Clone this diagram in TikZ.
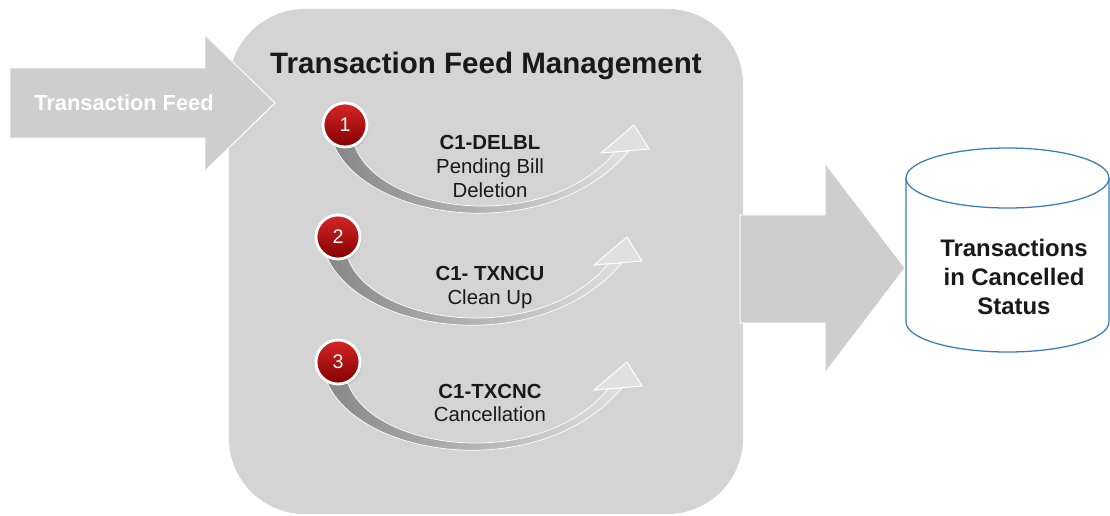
\documentclass[tikz,border=0pt]{standalone}
\usepackage{fontspec}
\setmainfont{Liberation Sans}
\usetikzlibrary{shadows}

\definecolor{panelgray}{RGB}{212,212,212}
\definecolor{arrowgray}{RGB}{206,206,206}
\definecolor{banddark}{RGB}{135,135,135}
\definecolor{bandlight}{RGB}{224,224,224}
\definecolor{numtop}{RGB}{214,38,38}
\definecolor{numbot}{RGB}{130,0,0}
\definecolor{dbblue}{RGB}{60,125,180}
\definecolor{textdark}{RGB}{25,25,25}

\begin{document}
\begin{tikzpicture}[
  x=0.025cm, y=-0.025cm,
  panel/.style={fill=panelgray, rounded corners=1.9cm, minimum width=12.85cm, minimum height=12.625cm},
  bigarrow/.style={fill=arrowgray, draw=white, line width=0.7pt},
  band/.style={left color=banddark, right color=bandlight, draw=white, line width=0.5pt},
  bandhead/.style={fill=bandlight, draw=white, line width=0.7pt},
  stepnum/.style={circle, minimum size=1.1cm, inner sep=0pt, top color=numtop, bottom color=numbot,
    draw=white, line width=2pt, text=white, font=\fontsize{14}{14}\selectfont,
    drop shadow={opacity=0.25, shadow xshift=0.4mm, shadow yshift=-0.6mm}},
  title/.style={font=\fontsize{21}{24}\selectfont\bfseries, text=textdark, anchor=base},
  feed/.style={font=\fontsize{15.5}{18}\selectfont\bfseries, text=white, anchor=base},
  job/.style={align=center, font=\fontsize{14.5}{17}\selectfont, text=textdark},
  dbline/.style={draw=dbblue, line width=0.9pt},
  dbtext/.style={align=center, font=\fontsize{17}{20.6}\selectfont\bfseries, text=textdark},
]

\def\RX{101.5}  % cylinder x radius
\def\RY{30}     % cylinder y radius

\useasboundingbox (0,0) rectangle (1110,515);

% ── Management panel ──
\node[panel] (panel) at (486,261.5) {};
\node[title] (head) at (486,73) {Transaction Feed Management};

% ── Incoming feed arrow ──
\draw[bigarrow] (10,68) -- (205,68) -- (205,35) -- (275,103)
  -- (205,171) -- (205,138) -- (10,138) -- cycle;
\node[feed] (feed) at (124,110) {Transaction Feed};

% ── Outgoing arrow ──
\draw[bigarrow] (740,215) -- (825,215) -- (825,163) -- (905,268)
  -- (825,373) -- (825,323) -- (740,323) -- cycle;

% ── Steps: sweep arrows and numbers ──
\foreach \n/\x/\y in {1/345/125, 2/338/237, 3/338/362} {
  \begin{scope}[shift={(\x,\y)}]
    \draw[band] (-14,12) .. controls (10,95) and (200,125) .. (284,26)
      -- (270,27) .. controls (200,112) and (25,88) .. (8,15) -- cycle;
    \draw[bandhead] (256,28) -- (289,0) -- (304,24) -- cycle;
  \end{scope}
  \node[stepnum] (num\n) at (\x,\y) {\n};
}

% ── Step labels ──
\node[job] (job1) at (490,166.5) {\textbf{C1-DELBL}\\Pending Bill\\Deletion};
\node[job] (job2) at (490,287.5) {\textbf{C1- TXNCU}\\Clean Up};
\node[job] (job3) at (490,403) {\textbf{C1-TXCNC}\\Cancellation};

% ── Result store ──
\coordinate (dbtop) at (1007.5,178);
\coordinate (dbtl) at (906,178);
\coordinate (dbtr) at (1109,178);
\coordinate (dbbl) at (906,322);
\fill[white] (dbtl) -- (dbbl)
  arc[start angle=180, end angle=0, x radius=\RX, y radius=\RY]
  -- (dbtr) -- cycle;
\draw[dbline] (dbtl) -- (dbbl)
  arc[start angle=180, end angle=0, x radius=\RX, y radius=\RY]
  -- (dbtr);
\draw[dbline, fill=white] (dbtop) ellipse[x radius=\RX, y radius=\RY];
\node[dbtext] (store) at (1014,277) {Transactions\\ in Cancelled\\Status};

\end{tikzpicture}
\end{document}
